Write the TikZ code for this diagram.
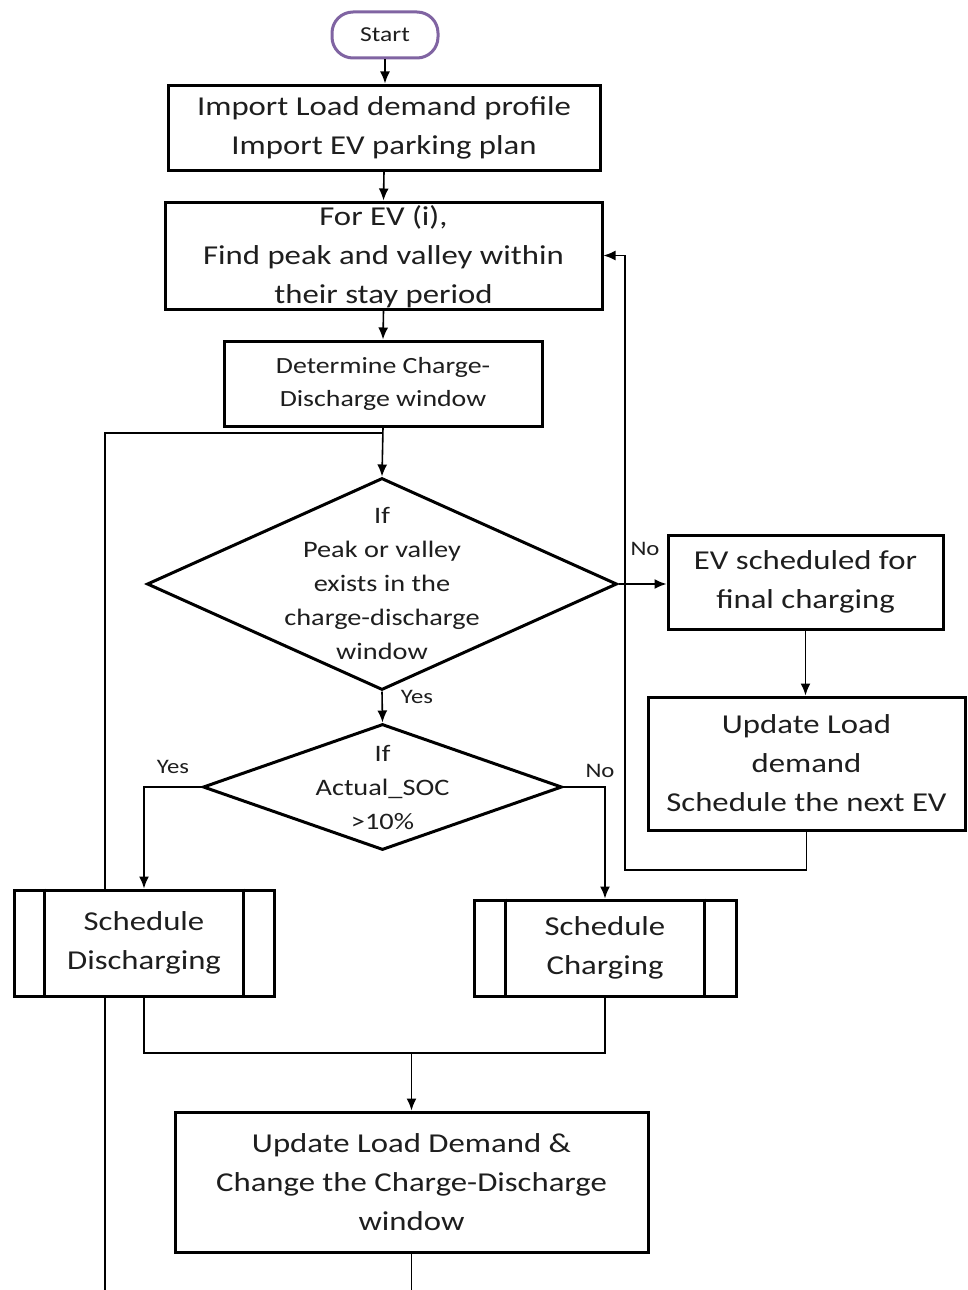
\documentclass[tikz,border=0pt]{standalone}
\usepackage{fontspec}
\setmainfont{Carlito}[FakeStretch=1.2]
\usetikzlibrary{arrows.meta,shapes.geometric}
\definecolor{startpurple}{RGB}{128,100,162}
\definecolor{txt}{RGB}{30,30,30}
\tikzset{
  box/.style={draw=black,fill=white,line width=3pt,rectangle,inner sep=0pt,align=center,text=txt,font=\fontsize{27.3}{39}\selectfont},
  smallbox/.style={box,font=\fontsize{23.2}{33}\selectfont},
  dia/.style={draw=black,fill=white,line width=3pt,diamond,inner sep=0pt,shape aspect=1},
  diatext/.style={align=center,text=txt,inner sep=0pt,font=\fontsize{23.6}{34}\selectfont},
  lbl/.style={text=txt,inner sep=0pt,font=\fontsize{20.6}{24}\selectfont},
  conn/.style={draw=black,line width=1.6pt},
  arr/.style={conn,-{Latex[length=12pt,width=10pt]}}
}
\begin{document}
\begin{tikzpicture}[x=1pt,y=-1pt]
\useasboundingbox (0,0) rectangle (968,1290);
\fill[white] (0,0) rectangle (968,1290);
% Coordinates
\coordinate (j1) at (383,433);
\coordinate (bl) at (105,1290);
\coordinate (r1) at (625,870);
\coordinate (m1) at (411.5,1053);
\coordinate (bb) at (411.5,1290);
% loop line on the left (drawn first, boxes cover it)
\draw[conn] (bl) |- (j1);
% Start
\node[draw=startpurple,fill=white,line width=3pt,rounded corners=21pt,minimum width=106pt,minimum height=46pt,inner sep=0pt,text=txt,font=\fontsize{21.3}{26}\selectfont] (start) at (385,35) {Start};
% Box 1
\node[box,minimum width=432pt,minimum height=85pt] (b1) at (384,127.5) {Import Load demand profile\\Import EV parking plan};
% Box 2 (text overflows the frame)
\node[box,minimum width=437pt,minimum height=107pt] (b2) at (383.5,255.5) {};
\node[align=center,text=txt,inner sep=0pt,font=\fontsize{27.3}{39}\selectfont] (b2t) at (383.5,257) {For EV (i),\\Find peak and valley within\\their stay period};
% Box 3
\node[smallbox,minimum width=318pt,minimum height=85pt] (b3) at (383,383.5) {Determine Charge-\\Discharge window};
% Diamond 1
\node[dia,minimum width=470pt,minimum height=212pt] (d1) at (382,584) {};
\node[diatext] (d1t) at (382,583) {If\\Peak or valley\\exists in the\\charge-discharge\\window};
% Box 4
\node[box,minimum width=275pt,minimum height=94pt] (b4) at (805.5,582) {EV scheduled for\\final charging};
% Box 5
\node[box,minimum width=317pt,minimum height=133pt] (b5) at (806.5,763.5) {Update Load\\demand\\Schedule the next EV};
% Diamond 2
\node[dia,minimum width=359pt,minimum height=126pt] (d2) at (382.5,787) {};
\node[diatext] (d2t) at (382.5,787) {If\\Actual\_SOC\\>10\%};
% Box 6 (predefined process)
\node[box,minimum width=260pt,minimum height=106pt] (b6) at (144,943) {Schedule\\Discharging};
\draw[line width=3pt] ([xshift=32pt]b6.north west) -- ([xshift=32pt]b6.south west);
\draw[line width=3pt] ([xshift=-32pt]b6.north east) -- ([xshift=-32pt]b6.south east);
% Box 7 (predefined process)
\node[box,minimum width=262pt,minimum height=96pt] (b7) at (605,948) {Schedule\\Charging};
\draw[line width=3pt] ([xshift=33pt]b7.north west) -- ([xshift=33pt]b7.south west);
\draw[line width=3pt] ([xshift=-33pt]b7.north east) -- ([xshift=-33pt]b7.south east);
% Box 8
\node[box,minimum width=473pt,minimum height=140pt] (b8) at (411.5,1182) {Update Load Demand \&\\Change the Charge-Discharge\\window};
% Connectors
\draw[arr] (start.south) -- (b1.north -| start.south);
\draw[arr] (b1.south) -- (b2.north);
\draw[arr] (b2.south) -- (b3.north);
\draw[arr] (b3.south) -- (d1.north);
\draw[arr] (d1.east) -- (b4.west |- d1.east);
\draw[arr] (b4.south) -- (b5.north -| b4.south);
\draw[arr] (b5.south) |- (r1) |- (b2.east);
\draw[arr] (d1.south) -- (d2.north);
\draw[arr] (d2.west) -| (b6.north);
\draw[arr] (d2.east) -| (b7.north);
\draw[conn] (b6.south) |- (m1) -| (b7.south);
\draw[arr] (m1) -- (b8.north);
\draw[conn] (b8.south) -- (bb);
% Labels
\node[lbl] (lno1) at (645,549) {No};
\node[lbl] (lyes1) at (417,697) {Yes};
\node[lbl] (lyes2) at (173,767) {Yes};
\node[lbl] (lno2) at (600,771) {No};
\end{tikzpicture}
\end{document}
